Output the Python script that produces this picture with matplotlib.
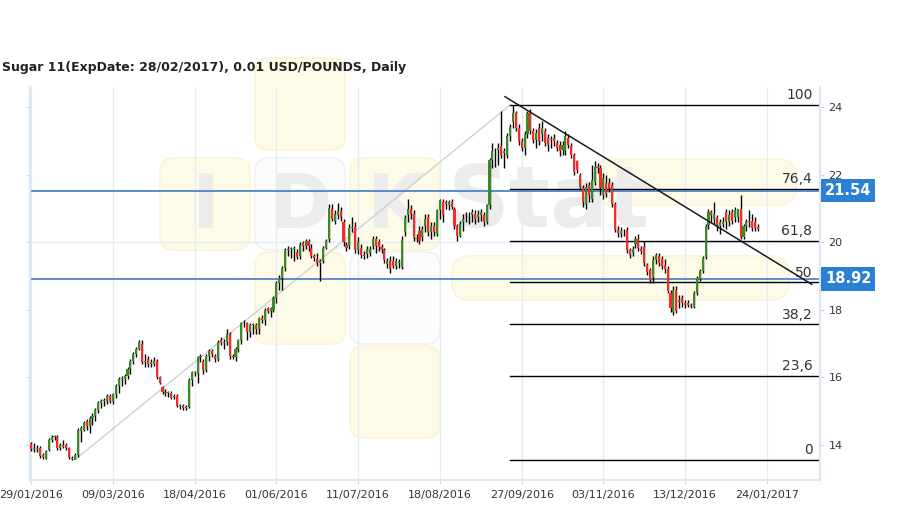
import matplotlib
matplotlib.use('Agg')
import matplotlib.pyplot as plt
from matplotlib.patches import FancyBboxPatch

# Titulo e rotulos
title = 'Sugar 11(ExpDate: 28/02/2017), 0.01 USD/POUNDS, Daily'
date_labels = ['29/01/2016', '09/03/2016', '18/04/2016', '01/06/2016', '11/07/2016',
               '18/08/2016', '27/09/2016', '03/11/2016', '13/12/2016', '24/01/2017']
tick_step = 28
y_ticks = [14, 16, 18, 20, 22, 24]

# Candles diarios
opens = [14.02, 13.88, 13.88, 13.9, 13.7, 13.6, 13.85, 14.15, 14.25, 14.25,
         13.9, 14.0, 14.0, 13.9, 13.62, 13.56, 13.7, 14.4, 14.45, 14.7,
         14.55, 14.8, 14.85, 15.05, 15.25, 15.3, 15.3, 15.45, 15.3, 15.5,
         15.75, 15.95, 15.95, 16.05, 16.25, 16.5, 16.7, 16.85, 17.0, 16.45,
         16.55, 16.4, 16.4, 16.5, 16.0, 15.72, 15.55, 15.55, 15.55, 15.42,
         15.45, 15.15, 15.15, 15.1, 15.12, 15.93, 16.15, 16.1, 16.6, 16.5,
         16.22, 16.65, 16.78, 16.65, 16.55, 17.1, 17.02, 17.05, 17.3, 16.65,
         16.6, 16.85, 17.1, 17.6, 17.62, 17.35, 17.55, 17.55, 17.45, 17.75,
         17.7, 18.05, 17.98, 18.0, 18.35, 18.8, 18.95, 19.24, 19.78, 19.8,
         19.8, 19.72, 19.6, 19.98, 19.9, 20.05, 19.85, 19.6, 19.5, 19.38,
         19.45, 19.85, 20.1, 21.0, 20.65, 20.8, 20.92, 20.6, 19.92, 19.9,
         20.42, 20.47, 19.78, 19.85, 19.62, 19.65, 19.7, 19.9, 20.1, 20.0,
         19.88, 19.78, 19.35, 19.45, 19.45, 19.3, 19.4, 19.28, 20.32, 20.82,
         20.98, 20.85, 20.1, 20.35, 20.15, 20.5, 20.75, 20.3, 20.5, 20.25,
         20.95, 21.2, 21.2, 21.1, 21.2, 21.0, 20.5, 20.2, 20.6, 20.85,
         20.8, 20.8, 20.85, 20.75, 20.8, 20.8, 20.6, 21.1, 22.44, 22.7,
         22.75, 22.85, 22.65, 22.6, 23.15, 23.58, 23.83, 23.4, 23.0, 22.8,
         23.2, 23.88, 23.3, 23.05, 23.4, 23.2, 23.3, 23.1, 23.05, 23.1,
         22.95, 22.9, 22.75, 22.7, 23.1, 22.85, 22.6, 22.4, 22.0, 21.6,
         21.15, 21.7, 21.3, 21.8, 22.25, 22.2, 21.4, 21.75, 21.75, 21.7,
         21.15, 20.37, 20.25, 20.3, 20.37, 19.78, 19.7, 19.95, 20.1, 19.8,
         19.88, 19.33, 19.18, 18.97, 19.48, 19.6, 19.5, 19.33, 19.2, 18.5,
         17.95, 18.6, 18.25, 18.35, 18.22, 18.2, 18.15, 18.1, 18.5, 18.93,
         19.15, 19.57, 20.52, 20.9, 20.7, 20.75, 20.5, 20.55, 20.9, 20.6,
         20.9, 20.76, 20.75, 21.0, 20.15, 20.5, 20.65, 20.65, 20.6, 20.45]
highs = [14.08, 14.05, 14.0, 13.98, 13.75, 13.85, 14.2, 14.3, 14.3, 14.3,
         14.05, 14.15, 14.05, 13.95, 13.68, 13.75, 14.5, 14.55, 14.7, 14.78,
         14.85, 14.95, 15.1, 15.3, 15.35, 15.4, 15.5, 15.5, 15.55, 15.8,
         16.0, 16.05, 16.1, 16.3, 16.55, 16.75, 16.9, 17.12, 17.1, 16.7,
         16.65, 16.55, 16.6, 16.55, 16.05, 15.75, 15.65, 15.6, 15.6, 15.5,
         15.5, 15.2, 15.2, 15.18, 15.98, 16.2, 16.2, 16.65, 16.7, 16.55,
         16.7, 16.85, 16.85, 16.7, 17.1, 17.2, 17.15, 17.45, 17.35, 16.7,
         16.9, 17.15, 17.65, 17.7, 17.65, 17.6, 17.6, 17.6, 17.8, 17.85,
         18.05, 18.1, 18.1, 18.4, 18.85, 19.05, 19.3, 19.85, 19.9, 19.88,
         19.9, 19.8, 20.0, 20.05, 20.1, 20.1, 19.95, 19.65, 19.7, 19.5,
         19.9, 20.1, 21.15, 21.15, 20.95, 21.18, 21.05, 20.7, 20.0, 20.55,
         20.75, 20.6, 20.15, 19.95, 19.75, 19.9, 19.9, 20.2, 20.2, 20.1,
         19.95, 19.85, 19.55, 19.6, 19.6, 19.55, 19.5, 20.2, 20.8, 21.3,
         21.1, 20.95, 20.25, 20.5, 20.5, 20.85, 20.85, 20.6, 20.6, 21.0,
         21.3, 21.3, 21.25, 21.25, 21.3, 21.05, 20.55, 20.65, 20.85, 20.9,
         20.9, 21.0, 20.95, 20.95, 21.0, 20.9, 21.15, 22.5, 22.95, 22.8,
         22.95, 23.9, 22.8, 23.25, 23.5, 24.07, 23.9, 23.5, 23.1, 23.3,
         23.9, 23.95, 23.4, 23.35, 23.55, 23.6, 23.4, 23.2, 23.15, 23.2,
         23.05, 23.0, 23.0, 23.3, 23.2, 22.95, 22.65, 22.45, 22.05, 21.7,
         21.75, 21.8, 22.3, 22.4, 22.35, 22.3, 22.05, 22.0, 21.9, 21.8,
         21.2, 20.5, 20.45, 20.4, 20.45, 19.85, 19.9, 20.2, 20.25, 19.9,
         20.05, 19.4, 19.25, 19.6, 19.7, 19.7, 19.6, 19.5, 19.3, 18.6,
         18.7, 18.7, 18.45, 18.45, 18.3, 18.3, 18.2, 18.55, 19.0, 19.2,
         19.6, 20.55, 21.0, 20.95, 21.2, 20.8, 20.7, 20.75, 21.0, 20.95,
         21.0, 21.05, 21.0, 21.4, 20.55, 20.7, 20.95, 20.85, 20.75, 20.55]
lows = [13.82, 13.8, 13.78, 13.62, 13.6, 13.58, 13.82, 14.1, 14.15, 13.85,
        13.85, 13.9, 13.85, 13.6, 13.56, 13.58, 13.65, 14.1, 14.4, 14.45,
        14.35, 14.6, 14.7, 14.95, 15.1, 15.15, 15.2, 15.25, 15.2, 15.4,
        15.55, 15.75, 15.8, 15.95, 16.1, 16.4, 16.6, 16.8, 16.4, 16.3,
        16.3, 16.3, 16.35, 15.95, 15.8, 15.5, 15.45, 15.42, 15.35, 15.35,
        15.12, 15.08, 15.05, 15.05, 15.1, 15.75, 16.05, 15.85, 16.45, 16.1,
        16.15, 16.5, 16.6, 16.45, 16.5, 16.95, 16.85, 16.95, 16.55, 16.55,
        16.5, 16.75, 17.0, 17.5, 17.1, 17.2, 17.3, 17.3, 17.3, 17.6,
        17.55, 17.9, 17.8, 17.95, 18.2, 18.6, 18.6, 19.15, 19.6, 19.55,
        19.45, 19.5, 19.5, 19.75, 19.8, 19.75, 19.55, 19.45, 19.3, 18.85,
        19.4, 19.8, 20.0, 20.65, 20.55, 20.7, 20.65, 19.9, 19.75, 19.8,
        20.3, 19.7, 19.65, 19.55, 19.5, 19.55, 19.6, 19.8, 19.7, 19.75,
        19.7, 19.4, 19.25, 19.1, 19.25, 19.2, 19.25, 19.2, 20.2, 20.6,
        20.7, 20.05, 20.0, 19.95, 20.05, 20.3, 20.2, 20.1, 20.2, 20.2,
        20.7, 20.6, 21.0, 20.95, 21.0, 20.4, 20.05, 20.15, 20.35, 20.6,
        20.55, 20.6, 20.55, 20.6, 20.65, 20.5, 20.55, 21.0, 22.2, 22.25,
        22.3, 22.5, 22.2, 22.5, 23.0, 23.4, 23.3, 22.9, 22.7, 22.6,
        23.1, 23.2, 22.95, 22.8, 22.9, 23.0, 22.85, 22.7, 22.8, 22.85,
        22.7, 22.55, 22.6, 22.6, 22.8, 22.5, 22.0, 22.05, 21.6, 21.05,
        21.0, 21.2, 21.2, 21.7, 22.05, 21.4, 21.3, 21.35, 21.5, 21.05,
        20.3, 20.15, 20.15, 20.2, 19.7, 19.55, 19.6, 19.85, 19.75, 19.65,
        19.3, 19.05, 18.8, 18.8, 19.35, 19.3, 19.2, 19.1, 18.5, 17.95,
        17.85, 17.9, 18.05, 18.1, 18.05, 18.1, 18.05, 18.05, 18.45, 18.85,
        19.1, 19.5, 20.4, 20.6, 20.55, 20.35, 20.25, 20.45, 20.4, 20.5,
        20.55, 20.6, 20.6, 20.1, 20.1, 20.35, 20.45, 20.35, 20.35, 20.35]
closes = [13.88, 13.88, 13.9, 13.67, 13.65, 13.82, 14.15, 14.25, 14.27, 13.9,
          14.0, 13.95, 13.9, 13.65, 13.6, 13.7, 14.45, 14.5, 14.65, 14.55,
          14.8, 14.85, 15.05, 15.25, 15.3, 15.3, 15.45, 15.3, 15.5, 15.75,
          15.95, 15.95, 16.05, 16.25, 16.5, 16.7, 16.85, 17.05, 16.45, 16.5,
          16.4, 16.45, 16.5, 16.0, 15.85, 15.58, 15.55, 15.55, 15.4, 15.45,
          15.17, 15.15, 15.1, 15.12, 15.93, 16.15, 16.12, 16.6, 16.6, 16.22,
          16.65, 16.78, 16.7, 16.55, 17.05, 17.02, 17.05, 17.3, 16.65, 16.62,
          16.85, 17.1, 17.6, 17.62, 17.35, 17.55, 17.55, 17.45, 17.75, 17.7,
          18.0, 17.98, 18.05, 18.35, 18.8, 18.95, 19.24, 19.78, 19.82, 19.8,
          19.82, 19.57, 19.93, 19.9, 20.05, 19.9, 19.6, 19.55, 19.4, 19.45,
          19.85, 20.05, 21.02, 20.7, 20.85, 20.92, 20.75, 20.0, 19.83, 20.44,
          20.47, 19.78, 20.02, 19.63, 19.6, 19.8, 19.8, 20.1, 19.9, 19.88,
          19.8, 19.48, 19.45, 19.2, 19.3, 19.45, 19.4, 20.07, 20.72, 21.0,
          20.85, 20.13, 20.1, 20.05, 20.4, 20.7, 20.3, 20.5, 20.3, 20.95,
          21.25, 20.8, 21.15, 21.2, 21.05, 20.5, 20.2, 20.55, 20.7, 20.8,
          20.8, 20.9, 20.7, 20.85, 20.9, 20.6, 21.1, 22.44, 22.7, 22.72,
          22.8, 22.6, 22.7, 23.15, 23.43, 23.83, 23.39, 23.0, 22.8, 23.2,
          23.83, 23.3, 23.05, 23.25, 23.0, 23.4, 22.95, 22.9, 23.05, 23.0,
          22.8, 22.7, 22.9, 23.15, 22.9, 22.6, 22.1, 22.15, 21.65, 21.2,
          21.65, 21.4, 21.85, 22.25, 22.2, 21.6, 21.9, 21.45, 21.6, 21.15,
          20.37, 20.28, 20.35, 20.3, 19.78, 19.63, 19.8, 20.1, 19.83, 19.75,
          19.38, 19.13, 18.89, 19.48, 19.63, 19.4, 19.3, 19.2, 18.56, 18.05,
          18.6, 17.97, 18.3, 18.2, 18.15, 18.15, 18.12, 18.5, 18.94, 19.15,
          19.55, 20.5, 20.9, 20.8, 20.85, 20.52, 20.6, 20.6, 20.6, 20.8,
          20.65, 20.96, 20.98, 20.15, 20.5, 20.65, 20.6, 20.42, 20.42, 20.4]

# Niveis de Fibonacci e linhas do analista
fib_names = ['0', '23,6', '38,2', '50', '61,8', '76,4', '100']
fib_ratios = [0.0, 0.236, 0.382, 0.5, 0.618, 0.764, 1.0]
fib_low = 13.56
fib_high = 24.07
swing_x = [15.5, 164]
swing_y = [13.6, 24.07]
trend_x = [162.3, 267.4]
trend_y = [24.32, 18.76]
levels = [21.54, 18.92]

fig = plt.figure(figsize=(9.09, 5.09), dpi=100)

# Marca d'agua ao fundo (coordenadas em pixels)
bg = fig.add_axes([0, 0, 1, 1], zorder=0)
bg.set_xlim(0, 909)
bg.set_ylim(509, 0)
bg.axis('off')
amarelo = dict(fc='#fefae8', ec='#fbf4d8', lw=1.2)
branco = dict(fc='#fcfcfc', ec='#f1f1f1', lw=1.2)
caixas = [(255, 58, amarelo), (160, 158, amarelo), (255, 158, branco),
          (350, 158, amarelo), (255, 252, amarelo), (350, 252, branco),
          (350, 346, amarelo)]
for cx, cy, estilo in caixas:
    bg.add_patch(FancyBboxPatch((cx + 8, cy + 8), 74, 76,
                                boxstyle='round,pad=8,rounding_size=14', **estilo))
bg.add_patch(FancyBboxPatch((600, 165), 190, 34,
                            boxstyle='round,pad=6,rounding_size=18', **amarelo))
bg.add_patch(FancyBboxPatch((458, 262), 325, 32,
                            boxstyle='round,pad=6,rounding_size=18', **amarelo))
for letra, lx in [('I', 205), ('D', 300), ('K', 395)]:
    bg.text(lx, 207, letra, fontsize=54, fontweight='bold', color='#ececec',
            ha='center', va='center')
bg.text(448, 203, 'Stat', fontsize=62, fontweight='bold', color='#ececec',
        ha='left', va='center')

ax = fig.add_axes([30 / 909, 1 - 480 / 509, 790 / 909, 393 / 509], zorder=1)
ax.set_facecolor('none')

n = len(closes)
xs = list(range(n))

# Grade
for i in range(0, 253, tick_step):
    ax.axvline(i, color='#e2ecf6', lw=1, zorder=1)
ax.axhline(20, color='#e2ecf6', lw=1, zorder=1)

# Linhas de tendencia
ax.plot(swing_x, swing_y, color='#cfcfcf', lw=1, zorder=2)
ax.plot(trend_x, trend_y, color='#1a1a1a', lw=1.1, zorder=4)

# Candles
ax.vlines(xs, lows, highs, color='black', lw=1, zorder=3)
cores = ['#3c8a22' if c >= o else '#ff2626' for o, c in zip(opens, closes)]
bases = [min(o, c) for o, c in zip(opens, closes)]
alturas = [max(abs(c - o), 0.025) for o, c in zip(opens, closes)]
ax.bar(xs, alturas, bottom=bases, width=0.72, color=cores, lw=0, zorder=3)

# Fibonacci
for nome, r in zip(fib_names, fib_ratios):
    nivel = fib_low + r * (fib_high - fib_low)
    ax.plot([164, 269.8], [nivel, nivel], color='black', lw=1, zorder=2)
    ax.annotate(nome, (267.6, nivel), xytext=(0, 2), textcoords='offset points',
                ha='right', va='bottom', fontsize=10, color='#333333')

# Niveis horizontais azuis com etiqueta
for nivel in levels:
    ax.axhline(nivel, color='#2f72bf', lw=1.1, zorder=2)
    ax.annotate(f'{nivel:.2f}', (1.0, nivel), xycoords=('axes fraction', 'data'),
                xytext=(3.5, 0), textcoords='offset points', ha='left', va='center',
                fontsize=10.5, fontweight='bold', color='white', annotation_clip=False,
                bbox=dict(boxstyle='square,pad=0.28', fc='#2b7fd4', ec='none'))

ax.set_xlim(-0.4, 270.2)
ax.set_ylim(12.963, 24.607)
ax.set_xticks(list(range(0, 253, tick_step)))
ax.set_xticklabels(date_labels)
ax.set_yticks(y_ticks)
ax.set_yticklabels([str(v) for v in y_ticks])
ax.tick_params(axis='y', left=True, right=True, labelleft=False, labelright=True,
               length=3, color='#c9d9ea', labelsize=8, labelcolor='#333333', pad=3)
ax.tick_params(axis='x', length=3, color='#c9d9ea', labelsize=8, labelcolor='#333333', pad=4)
for lado in ['left', 'bottom', 'right']:
    ax.spines[lado].set_color('#dbe7f3')
    ax.spines[lado].set_linewidth(1.6)
ax.spines['top'].set_visible(False)

fig.text(2 / 909, 1 - 68 / 509, title, fontsize=9, fontweight='bold',
         color='#222222', ha='left', va='center')

fig.savefig('out.png', dpi=100)
